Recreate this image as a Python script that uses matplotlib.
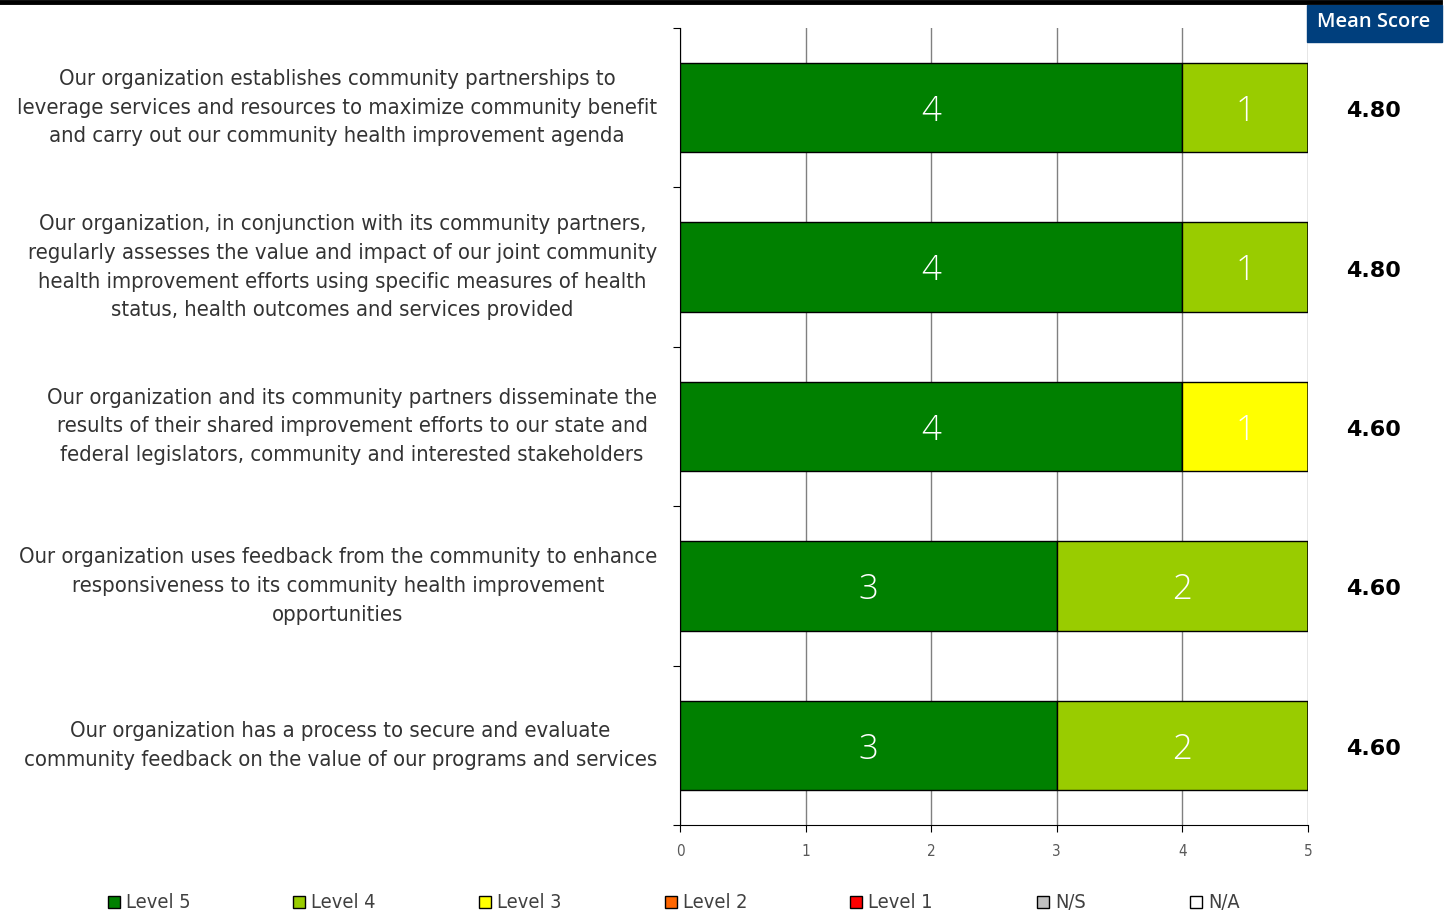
import numpy as np
import matplotlib.pyplot as plt
from matplotlib import font_manager
from matplotlib.patches import Rectangle
from matplotlib.lines import Line2D

# statements (top to bottom)
statements = [
    "Our organization establishes community partnerships to\nleverage services and resources to maximize community benefit\nand carry out our community health improvement agenda",
    "Our organization, in conjunction with its community partners,\nregularly assesses the value and impact of our joint community\nhealth improvement efforts using specific measures of health\nstatus, health outcomes and services provided",
    "Our organization and its community partners disseminate the\nresults of their shared improvement efforts to our state and\nfederal legislators, community and interested stakeholders",
    "Our organization uses feedback from the community to enhance\nresponsiveness to its community health improvement\nopportunities",
    "Our organization has a process to secure and evaluate\ncommunity feedback on the value of our programs and services",
]

levels = ["Level 5", "Level 4", "Level 3", "Level 2", "Level 1", "N/S", "N/A"]
level_scores = [5, 4, 3, 2, 1]
colors = ["#008000", "#99cc00", "#ffff00", "#ff6600", "#ff0000", "#c0c0c0", "#ffffff"]

# response counts per level, one list per statement
level5 = [4, 4, 4, 3, 3]
level4 = [1, 1, 0, 2, 2]
level3 = [0, 0, 1, 0, 0]
level2 = [0, 0, 0, 0, 0]
level1 = [0, 0, 0, 0, 0]
ns = [0, 0, 0, 0, 0]
na = [0, 0, 0, 0, 0]

counts = np.array([level5, level4, level3, level2, level1, ns, na])
scored = counts[:5]
mean_score = (scored * np.array(level_scores)[:, None]).sum(axis=0) / scored.sum(axis=0)

# pick a narrow sans font for the statement text
narrow = None
for f in font_manager.fontManager.ttflist:
    if f.stretch in ("condensed", "semi-condensed") or "Narrow" in f.name or "Condensed" in f.name:
        if f.weight in (300, 400, "light", "normal", "regular") and f.style == "normal":
            narrow = f
            break
if narrow is not None:
    narrow_prop = dict(family=narrow.name, stretch=narrow.stretch, weight=narrow.weight)
else:
    narrow_prop = dict(family="DejaVu Sans")

fig = plt.figure(figsize=(14.47, 9.23), dpi=100)
ax = fig.add_axes([680 / 1447, 1 - 825 / 923, 628 / 1447, 797 / 923])

y = np.arange(len(statements)) + 0.5
left = np.zeros(len(statements))
for i, name in enumerate(levels):
    ax.barh(y, counts[i], left=left, height=0.56, color=colors[i],
            edgecolor="black", linewidth=1, zorder=3)
    for yy, l, c in zip(y, left, counts[i]):
        if c > 0:
            ax.text(l + c / 2, yy, str(c), ha="center", va="center_baseline",
                    color="white", fontsize=25, family=["Open Sans", "DejaVu Sans"],
                    fontweight="light", zorder=4)
    left += counts[i]

ax.set_xlim(0, 5)
ax.set_ylim(5, 0)
ax.set_xticks(range(6))
ax.tick_params(axis="x", length=5, pad=9, labelsize=11, labelcolor="#595959")
for t in ax.get_xticklabels():
    t.set(**narrow_prop)
ax.set_yticks(range(6))
ax.set_yticklabels([])
ax.tick_params(axis="y", length=5)
ax.set_yticks(y, minor=True)
ax.set_yticklabels(statements, minor=True, multialignment="center", va="center",
                   fontsize=15.8, linespacing=1.55, color="#333333", **narrow_prop)
ax.tick_params(axis="y", which="minor", length=0, pad=16.5)
ax.grid(axis="x", color="#808080", linewidth=1, zorder=0)
ax.spines["top"].set_visible(False)
ax.spines["right"].set_visible(False)

# mean score column
fig.add_artist(Rectangle((1307 / 1447, 1 - 42 / 923), 135 / 1447, 37 / 923,
                         transform=fig.transFigure, color="#003f7d"))
fig.text(1374 / 1447, 1 - 22 / 923, "Mean Score", ha="center", va="center",
         color="white", fontsize=14.5, family=["Open Sans", "DejaVu Sans"],
         fontweight="semibold")
for yy, m in zip(y, mean_score):
    ax.text(1.105, yy + 0.01, f"{m:.2f}", transform=ax.get_yaxis_transform(),
            ha="center", va="center_baseline", fontsize=16, fontweight="bold")

# top rule
fig.add_artist(Line2D([0, 1440 / 1447], [1 - 2 / 923, 1 - 2 / 923],
                      transform=fig.transFigure, color="black", linewidth=3.5))

# legend row along the bottom
legend_x = [114, 299, 485, 671, 856, 1043, 1196]
ly = 1 - 902 / 923
for x, c, name in zip(legend_x, colors, levels):
    fig.add_artist(Rectangle((x / 1447 - 6 / 1447, ly - 6 / 923), 12 / 1447, 12 / 923,
                             transform=fig.transFigure, facecolor=c,
                             edgecolor="black", linewidth=1))
    fig.text(x / 1447 + 12 / 1447, ly, name, ha="left", va="center",
             fontsize=14.3, color="#404040", **narrow_prop)

fig.savefig("out.png", dpi=100)
